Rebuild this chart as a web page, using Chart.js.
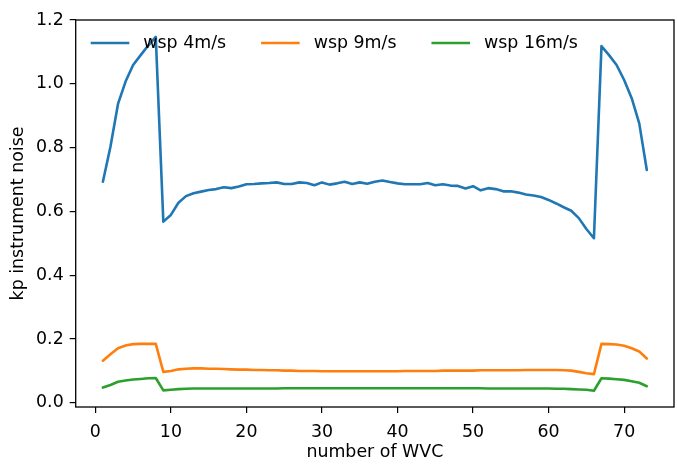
<!DOCTYPE html>
<html>
<head>
<meta charset="utf-8">
<script src="https://cdn.jsdelivr.net/npm/chart.js@4"></script>
<style>
  html, body { margin: 0; padding: 0; background: #fff; }
  canvas { display: block; }
</style>
</head>
<body>
<canvas id="noiseChart" width="677" height="473"></canvas>
<script>
// WVC index across the swath
const wvcNumber = [1, 2, 3, 4, 5, 6, 7, 8, 9, 10, 11, 12, 13, 14, 15, 16, 17, 18, 19, 20,
  21, 22, 23, 24, 25, 26, 27, 28, 29, 30, 31, 32, 33, 34, 35, 36, 37, 38, 39, 40,
  41, 42, 43, 44, 45, 46, 47, 48, 49, 50, 51, 52, 53, 54, 55, 56, 57, 58, 59, 60,
  61, 62, 63, 64, 65, 66, 67, 68, 69, 70, 71, 72, 73];

// kp instrument noise per wind speed
const kpWsp4 = [0.693, 0.803, 0.937, 1.007, 1.059, 1.090, 1.120, 1.147, 0.568, 0.589,
  0.627, 0.648, 0.657, 0.662, 0.667, 0.670, 0.676, 0.673, 0.678, 0.685,
  0.686, 0.688, 0.689, 0.691, 0.686, 0.686, 0.691, 0.689, 0.682, 0.691,
  0.684, 0.688, 0.693, 0.686, 0.691, 0.687, 0.693, 0.697, 0.692, 0.688,
  0.685, 0.685, 0.685, 0.689, 0.682, 0.685, 0.681, 0.680, 0.672, 0.679,
  0.666, 0.673, 0.670, 0.663, 0.663, 0.659, 0.653, 0.650, 0.645, 0.636,
  0.625, 0.613, 0.602, 0.579, 0.545, 0.516, 1.118, 1.090, 1.059, 1.012,
  0.955, 0.876, 0.730];

const kpWsp9 = [0.132, 0.152, 0.171, 0.180, 0.184, 0.185, 0.185, 0.185, 0.097, 0.100,
  0.105, 0.107, 0.108, 0.108, 0.107, 0.107, 0.106, 0.105, 0.104, 0.104,
  0.103, 0.103, 0.102, 0.102, 0.101, 0.101, 0.100, 0.100, 0.100, 0.099,
  0.099, 0.099, 0.099, 0.099, 0.099, 0.099, 0.099, 0.099, 0.099, 0.099,
  0.100, 0.100, 0.100, 0.100, 0.100, 0.101, 0.101, 0.101, 0.101, 0.101,
  0.102, 0.102, 0.102, 0.102, 0.102, 0.102, 0.103, 0.103, 0.103, 0.103,
  0.103, 0.102, 0.101, 0.097, 0.093, 0.090, 0.185, 0.184, 0.183, 0.179,
  0.171, 0.161, 0.139];

const kpWsp16 = [0.048, 0.056, 0.066, 0.070, 0.073, 0.075, 0.077, 0.078, 0.039, 0.041,
  0.043, 0.044, 0.045, 0.045, 0.045, 0.045, 0.045, 0.045, 0.045, 0.045,
  0.045, 0.045, 0.045, 0.045, 0.046, 0.046, 0.046, 0.046, 0.046, 0.046,
  0.046, 0.046, 0.046, 0.046, 0.046, 0.046, 0.046, 0.046, 0.046, 0.046,
  0.046, 0.046, 0.046, 0.046, 0.046, 0.046, 0.046, 0.046, 0.046, 0.046,
  0.046, 0.045, 0.045, 0.045, 0.045, 0.045, 0.045, 0.045, 0.045, 0.045,
  0.044, 0.044, 0.043, 0.042, 0.041, 0.038, 0.077, 0.076, 0.074, 0.072,
  0.068, 0.063, 0.052];

const seriesLabels = ["wsp 4m/s", "wsp 9m/s", "wsp 16m/s"];
const xTickValues = [0, 10, 20, 30, 40, 50, 60, 70];
const yTickValues = [0.0, 0.2, 0.4, 0.6, 0.8, 1.0, 1.2];

const colors = ["#1f77b4", "#ff7f0e", "#2ca02c"];
const FONT = "'DejaVu Sans', sans-serif";
const FONT_SIZE = 17.4;

function toPoints(ys) {
  return wvcNumber.map((x, i) => ({ x: x, y: ys[i] }));
}

// white background + full box frame like matplotlib spines
const framePlugin = {
  id: "frame",
  beforeDraw(chart) {
    const ctx = chart.ctx;
    ctx.save();
    ctx.fillStyle = "#fff";
    ctx.fillRect(0, 0, chart.width, chart.height);
    ctx.restore();
  },
  afterDraw(chart) {
    const { left, top, right, bottom } = chart.chartArea;
    const ctx = chart.ctx;
    ctx.save();
    ctx.strokeStyle = "#000";
    ctx.lineWidth = 1.3;
    ctx.strokeRect(left, top, right - left, bottom - top);
    ctx.restore();
  },
};

// legend drawn inside the axes, upper left, three columns, no box
const innerLegend = {
  id: "innerLegend",
  afterDatasetsDraw(chart) {
    const ctx = chart.ctx;
    const y = 43;
    let x = 90.7;
    ctx.save();
    ctx.font = FONT_SIZE + "px " + FONT;
    ctx.textBaseline = "middle";
    chart.data.datasets.forEach((ds) => {
      ctx.strokeStyle = ds.borderColor;
      ctx.lineWidth = 2.6;
      ctx.beginPath();
      ctx.moveTo(x, y);
      ctx.lineTo(x + 38.6, y);
      ctx.stroke();
      ctx.fillStyle = "#000";
      const tx = x + 52.6;
      ctx.fillText(ds.label, tx, y);
      x = tx + ctx.measureText(ds.label).width + 35;
    });
    ctx.restore();
  },
};

const data = {
  datasets: [
    { label: seriesLabels[0], data: toPoints(kpWsp4), borderColor: colors[0] },
    { label: seriesLabels[1], data: toPoints(kpWsp9), borderColor: colors[1] },
    { label: seriesLabels[2], data: toPoints(kpWsp16), borderColor: colors[2] },
  ],
};

const config = {
  type: "line",
  data: data,
  options: {
    responsive: false,
    animation: false,
    layout: { padding: { top: 20, right: 3, left: 0, bottom: 0 } },
    elements: {
      line: { borderWidth: 2.6, tension: 0, fill: false, borderCapStyle: "round", borderJoinStyle: "round" },
      point: { radius: 0 },
    },
    plugins: {
      legend: { display: false },
      tooltip: { enabled: false },
    },
    scales: {
      x: {
        type: "linear",
        min: -2.6,
        max: 76.6,
        afterBuildTicks: (scale) => {
          scale.ticks = xTickValues.map((v) => ({ value: v }));
        },
        afterFit: (scale) => { scale.height = 66; },
        grid: { drawOnChartArea: false, tickLength: 6, color: "#000", lineWidth: 1.2 },
        border: { display: false },
        ticks: {
          padding: 9,
          color: "#000",
          font: { family: FONT, size: FONT_SIZE },
          maxRotation: 0,
          callback: (v) => String(v),
        },
        title: {
          display: true,
          text: "number of WVC",
          color: "#000",
          font: { family: FONT, size: FONT_SIZE },
          padding: { top: 0, bottom: 10 },
        },
      },
      y: {
        type: "linear",
        min: -0.013,
        max: 1.2,
        afterBuildTicks: (scale) => {
          scale.ticks = yTickValues.map((v) => ({ value: v }));
        },
        afterFit: (scale) => { scale.width = 75.7; },
        grid: { drawOnChartArea: false, tickLength: 6, color: "#000", lineWidth: 1.2 },
        border: { display: false },
        ticks: {
          padding: 6,
          color: "#000",
          font: { family: FONT, size: FONT_SIZE },
          callback: (v) => v.toFixed(1),
        },
        title: {
          display: true,
          text: "kp instrument noise",
          color: "#000",
          font: { family: FONT, size: FONT_SIZE },
          padding: { top: 8, bottom: 0 },
        },
      },
    },
  },
  plugins: [framePlugin, innerLegend],
};

const noiseChart = new Chart(document.getElementById("noiseChart"), config);
</script>
</body>
</html>
